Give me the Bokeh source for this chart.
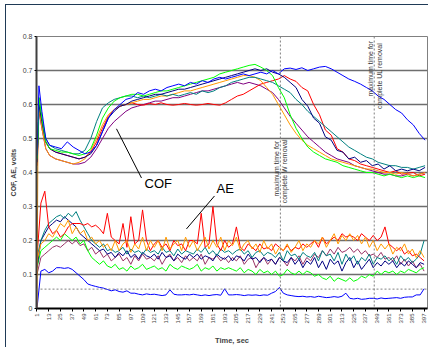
from math import pi
from bokeh.plotting import figure
from bokeh.models import Range1d, FixedTicker, Span, Label, NumeralTickFormatter
from bokeh.core.properties import value
from bokeh.embed import file_html
from bokeh.resources import INLINE

# ---------------- data ----------------
time_cof = [1, 2, 3, 6, 10] + list(range(14, 399, 6))
time_ae = list(range(1, 400, 4))
x_ticks = list(range(1, 398, 12))
y_ticks = [0, 0.1, 0.2, 0.3, 0.4, 0.5, 0.6, 0.7, 0.8]

W_REMOVAL_T = 250
UL_REMOVAL_T = 346
AE_CRIT = 0.057

cof_blue = [0.45, 0.55, 0.655, 0.58, 0.50, 0.48, 0.475, 0.47, 0.49, 0.475,
            0.465, 0.455, 0.46, 0.48, 0.52, 0.56, 0.585, 0.60, 0.615, 0.62,
            0.635, 0.63, 0.64, 0.645, 0.64, 0.65, 0.655, 0.66, 0.655, 0.665,
            0.66, 0.67, 0.665, 0.675, 0.68, 0.675, 0.68, 0.685, 0.69, 0.685,
            0.69, 0.695, 0.69, 0.70, 0.69, 0.705, 0.707, 0.703, 0.708, 0.70,
            0.705, 0.71, 0.712, 0.705, 0.695, 0.685, 0.675, 0.668, 0.66, 0.65,
            0.64, 0.625, 0.615, 0.60, 0.585, 0.575, 0.555, 0.54, 0.515, 0.495]
cof_red = [0.42, 0.5, 0.60, 0.55, 0.49, 0.47, 0.46, 0.455, 0.45, 0.445,
           0.44, 0.445, 0.46, 0.49, 0.53, 0.565, 0.585, 0.595, 0.60, 0.605,
           0.60, 0.598, 0.603, 0.60, 0.605, 0.60, 0.598, 0.60, 0.603, 0.60,
           0.598, 0.60, 0.603, 0.60, 0.598, 0.605, 0.615, 0.625, 0.63, 0.64,
           0.65, 0.66, 0.665, 0.67, 0.675, 0.685, 0.675, 0.668, 0.65, 0.64,
           0.60, 0.57, 0.525, 0.51, 0.47, 0.46, 0.44, 0.435, 0.425, 0.42,
           0.415, 0.41, 0.405, 0.40, 0.405, 0.395, 0.398, 0.40, 0.39, 0.395]
cof_green = [0.44, 0.5, 0.62, 0.56, 0.49, 0.47, 0.465, 0.46, 0.46, 0.455,
             0.45, 0.455, 0.47, 0.51, 0.56, 0.59, 0.61, 0.62, 0.625, 0.63,
             0.63, 0.625, 0.63, 0.635, 0.64, 0.64, 0.645, 0.65, 0.655, 0.66,
             0.665, 0.67, 0.675, 0.68, 0.69, 0.695, 0.70, 0.705, 0.71, 0.715,
             0.718, 0.71, 0.70, 0.685, 0.65, 0.62, 0.57, 0.53, 0.50, 0.475,
             0.46, 0.45, 0.44, 0.435, 0.43, 0.42, 0.415, 0.41, 0.405, 0.40,
             0.40, 0.395, 0.39, 0.395, 0.39, 0.385, 0.39, 0.385, 0.39, 0.385]
cof_navy = [0.43, 0.5, 0.6, 0.55, 0.49, 0.47, 0.46, 0.455, 0.45, 0.445,
            0.44, 0.445, 0.455, 0.48, 0.52, 0.56, 0.58, 0.595, 0.60, 0.61,
            0.615, 0.62, 0.625, 0.63, 0.63, 0.635, 0.64, 0.645, 0.645, 0.65,
            0.655, 0.66, 0.665, 0.67, 0.675, 0.68, 0.685, 0.69, 0.695, 0.70,
            0.705, 0.70, 0.705, 0.695, 0.69, 0.68, 0.665, 0.65, 0.615, 0.595,
            0.56, 0.545, 0.505, 0.495, 0.465, 0.46, 0.44, 0.445, 0.43, 0.435,
            0.42, 0.425, 0.41, 0.42, 0.405, 0.41, 0.405, 0.41, 0.405, 0.415]
cof_teal = [0.44, 0.5, 0.62, 0.56, 0.50, 0.48, 0.47, 0.465, 0.46, 0.455,
            0.455, 0.465, 0.50, 0.55, 0.59, 0.605, 0.615, 0.62, 0.625, 0.625,
            0.62, 0.625, 0.62, 0.625, 0.63, 0.625, 0.63, 0.625, 0.63, 0.635,
            0.63, 0.64, 0.635, 0.64, 0.65, 0.655, 0.665, 0.67, 0.675, 0.68,
            0.68, 0.675, 0.67, 0.665, 0.655, 0.645, 0.635, 0.615, 0.60, 0.58,
            0.565, 0.55, 0.535, 0.52, 0.505, 0.49, 0.475, 0.465, 0.455, 0.445,
            0.44, 0.43, 0.425, 0.42, 0.42, 0.415, 0.415, 0.41, 0.415, 0.42]
cof_orange = [0.0, 0.5, 0.59, 0.53, 0.47, 0.45, 0.44, 0.435, 0.43, 0.425,
              0.43, 0.44, 0.465, 0.50, 0.54, 0.57, 0.585, 0.595, 0.60, 0.605,
              0.61, 0.615, 0.615, 0.62, 0.625, 0.625, 0.63, 0.635, 0.64, 0.64,
              0.645, 0.65, 0.655, 0.66, 0.665, 0.67, 0.675, 0.68, 0.685, 0.685,
              0.68, 0.67, 0.65, 0.63, 0.60, 0.57, 0.54, 0.515, 0.495, 0.48,
              0.47, 0.46, 0.45, 0.44, 0.435, 0.43, 0.425, 0.42, 0.415, 0.41,
              0.41, 0.405, 0.40, 0.40, 0.395, 0.40, 0.395, 0.39, 0.395, 0.40]
cof_purple = [0.42, 0.48, 0.58, 0.53, 0.47, 0.45, 0.44, 0.435, 0.43, 0.425,
              0.425, 0.43, 0.445, 0.47, 0.50, 0.53, 0.55, 0.565, 0.58, 0.59,
              0.595, 0.60, 0.605, 0.61, 0.61, 0.615, 0.62, 0.62, 0.625, 0.63,
              0.635, 0.64, 0.64, 0.645, 0.65, 0.655, 0.66, 0.665, 0.66, 0.665,
              0.66, 0.655, 0.645, 0.635, 0.615, 0.59, 0.565, 0.545, 0.525, 0.505,
              0.49, 0.475, 0.46, 0.45, 0.44, 0.435, 0.43, 0.42, 0.415, 0.41,
              0.405, 0.40, 0.395, 0.395, 0.39, 0.39, 0.395, 0.39, 0.395, 0.40]

ae_blue = [0.0, 0.11, 0.115, 0.105, 0.11, 0.12, 0.12, 0.118, 0.12, 0.115,
           0.105, 0.095, 0.085, 0.072, 0.068, 0.065, 0.062, 0.06, 0.056, 0.052,
           0.055, 0.05, 0.048, 0.052, 0.045, 0.045, 0.042, 0.04, 0.043, 0.041,
           0.042, 0.04, 0.038, 0.04, 0.055, 0.042, 0.04, 0.04, 0.041, 0.04,
           0.042, 0.04, 0.038, 0.04, 0.038, 0.04, 0.041, 0.039, 0.058, 0.04,
           0.04, 0.041, 0.04, 0.038, 0.04, 0.039, 0.04, 0.038, 0.04, 0.039,
           0.045, 0.05, 0.062, 0.045, 0.04, 0.038, 0.036, 0.035, 0.036, 0.034,
           0.035, 0.033, 0.036, 0.034, 0.032, 0.033, 0.035, 0.033, 0.036, 0.045,
           0.03, 0.028, 0.03, 0.027, 0.028, 0.03, 0.03, 0.028, 0.031, 0.029,
           0.03, 0.031, 0.032, 0.03, 0.033, 0.034, 0.034, 0.04, 0.04, 0.058]
ae_green = [0.12, 0.17, 0.18, 0.19, 0.2, 0.21, 0.2, 0.22, 0.21, 0.2,
            0.21, 0.19, 0.2, 0.17, 0.15, 0.14, 0.13, 0.14, 0.125, 0.12,
            0.13, 0.115, 0.12, 0.11, 0.125, 0.115, 0.12, 0.13, 0.115, 0.12,
            0.125, 0.115, 0.12, 0.11, 0.13, 0.12, 0.115, 0.125, 0.12, 0.115,
            0.12, 0.13, 0.11, 0.12, 0.115, 0.125, 0.11, 0.12, 0.115, 0.12,
            0.115, 0.11, 0.12, 0.105, 0.115, 0.11, 0.1, 0.115, 0.105, 0.11,
            0.1, 0.11, 0.095, 0.1, 0.115, 0.105, 0.1, 0.11, 0.1, 0.11,
            0.105, 0.095, 0.1, 0.09, 0.085, 0.095, 0.08, 0.09, 0.085, 0.08,
            0.09, 0.08, 0.085, 0.095, 0.09, 0.1, 0.095, 0.11, 0.1, 0.11,
            0.105, 0.11, 0.1, 0.11, 0.105, 0.115, 0.11, 0.105, 0.115, 0.12]
ae_mauve = [0.1, 0.15, 0.16, 0.17, 0.18, 0.185, 0.18, 0.19, 0.2, 0.19,
            0.2, 0.185, 0.19, 0.17, 0.18, 0.16, 0.17, 0.15, 0.16, 0.14,
            0.15, 0.16, 0.14, 0.15, 0.13, 0.155, 0.14, 0.16, 0.145, 0.15,
            0.14, 0.155, 0.13, 0.15, 0.16, 0.14, 0.15, 0.135, 0.155, 0.14,
            0.15, 0.14, 0.16, 0.13, 0.15, 0.145, 0.155, 0.14, 0.15, 0.135,
            0.15, 0.14, 0.155, 0.13, 0.145, 0.15, 0.12, 0.14, 0.15, 0.13,
            0.145, 0.13, 0.15, 0.14, 0.125, 0.15, 0.14, 0.155, 0.13, 0.15,
            0.14, 0.16, 0.15, 0.17, 0.155, 0.175, 0.16, 0.18, 0.165, 0.17,
            0.18, 0.165, 0.175, 0.16, 0.17, 0.155, 0.16, 0.15, 0.165, 0.145,
            0.15, 0.14, 0.155, 0.13, 0.145, 0.125, 0.14, 0.12, 0.13, 0.11]
ae_navy = [0.12, 0.2, 0.22, 0.24, 0.25, 0.26, 0.255, 0.27, 0.26, 0.25,
           0.24, 0.22, 0.21, 0.2, 0.19, 0.18, 0.17, 0.175, 0.16, 0.165,
           0.15, 0.165, 0.155, 0.17, 0.15, 0.16, 0.145, 0.165, 0.155, 0.15,
           0.16, 0.145, 0.165, 0.15, 0.155, 0.14, 0.16, 0.15, 0.145, 0.16,
           0.15, 0.16, 0.145, 0.155, 0.15, 0.14, 0.16, 0.15, 0.145, 0.155,
           0.14, 0.155, 0.15, 0.14, 0.16, 0.145, 0.15, 0.135, 0.15, 0.14,
           0.145, 0.13, 0.15, 0.14, 0.135, 0.15, 0.13, 0.145, 0.12, 0.14,
           0.13, 0.15, 0.12, 0.14, 0.115, 0.145, 0.13, 0.14, 0.11, 0.135,
           0.15, 0.12, 0.14, 0.115, 0.13, 0.145, 0.12, 0.135, 0.125, 0.14,
           0.13, 0.14, 0.12, 0.135, 0.125, 0.14, 0.13, 0.12, 0.135, 0.13]
ae_teal = [0.15, 0.2, 0.23, 0.25, 0.26, 0.27, 0.275, 0.265, 0.28, 0.27,
           0.285, 0.26, 0.24, 0.22, 0.2, 0.19, 0.18, 0.19, 0.17, 0.175,
           0.165, 0.17, 0.18, 0.16, 0.175, 0.165, 0.17, 0.16, 0.175, 0.165,
           0.17, 0.16, 0.18, 0.165, 0.17, 0.155, 0.175, 0.16, 0.17, 0.165,
           0.16, 0.175, 0.165, 0.18, 0.16, 0.17, 0.155, 0.175, 0.165, 0.17,
           0.16, 0.17, 0.175, 0.16, 0.17, 0.15, 0.165, 0.17, 0.155, 0.165,
           0.16, 0.15, 0.165, 0.14, 0.17, 0.155, 0.16, 0.145, 0.165, 0.155,
           0.15, 0.165, 0.14, 0.17, 0.155, 0.16, 0.14, 0.165, 0.13, 0.16,
           0.14, 0.155, 0.13, 0.15, 0.14, 0.16, 0.13, 0.15, 0.145, 0.155,
           0.14, 0.15, 0.13, 0.155, 0.14, 0.15, 0.135, 0.145, 0.16, 0.2]
ae_orange = [0.14, 0.19, 0.2, 0.22, 0.21, 0.23, 0.25, 0.24, 0.26, 0.22,
             0.24, 0.22, 0.23, 0.2, 0.21, 0.19, 0.2, 0.18, 0.19, 0.17,
             0.2, 0.17, 0.19, 0.2, 0.165, 0.19, 0.175, 0.21, 0.17, 0.2,
             0.18, 0.2, 0.17, 0.21, 0.175, 0.19, 0.2, 0.17, 0.21, 0.18,
             0.2, 0.17, 0.19, 0.21, 0.175, 0.2, 0.18, 0.21, 0.17, 0.2,
             0.185, 0.21, 0.17, 0.19, 0.2, 0.175, 0.19, 0.165, 0.2, 0.175,
             0.19, 0.16, 0.18, 0.17, 0.19, 0.165, 0.18, 0.2, 0.17, 0.19,
             0.18, 0.2, 0.19, 0.21, 0.18, 0.2, 0.22, 0.19, 0.215, 0.2,
             0.22, 0.2, 0.215, 0.19, 0.21, 0.18, 0.2, 0.17, 0.19, 0.175,
             0.19, 0.16, 0.18, 0.17, 0.19, 0.16, 0.175, 0.15, 0.17, 0.15]
ae_red = [0.15, 0.31, 0.345, 0.24, 0.22, 0.23, 0.21, 0.22, 0.24, 0.25,
          0.25, 0.25, 0.245, 0.25, 0.24, 0.245, 0.235, 0.22, 0.28, 0.21,
          0.2, 0.19, 0.25, 0.18, 0.27, 0.19, 0.2, 0.29, 0.2, 0.17,
          0.19, 0.2, 0.18, 0.19, 0.17, 0.2, 0.185, 0.19, 0.17, 0.2,
          0.2, 0.19, 0.28, 0.18, 0.19, 0.30, 0.19, 0.17, 0.2, 0.18,
          0.19, 0.24, 0.18, 0.17, 0.19, 0.18, 0.17, 0.19, 0.175, 0.18,
          0.17, 0.19, 0.18, 0.17, 0.185, 0.17, 0.18, 0.175, 0.19, 0.18,
          0.19, 0.2, 0.18, 0.21, 0.19, 0.2, 0.21, 0.2, 0.22, 0.21,
          0.215, 0.21, 0.2, 0.22, 0.21, 0.2, 0.215, 0.2, 0.21, 0.24,
          0.19, 0.18, 0.17, 0.18, 0.16, 0.17, 0.155, 0.16, 0.15, 0.14]

cof_series = [(cof_purple, "#800080"), (cof_red, "#FF0000"), (cof_orange, "#FF9900"),
              (cof_teal, "#008080"), (cof_navy, "#000080"), (cof_green, "#00FF00"),
              (cof_blue, "#0000FF")]
ae_series = [(ae_mauve, "#993366"), (ae_green, "#00FF00"), (ae_navy, "#000080"),
             (ae_teal, "#008080"), (ae_red, "#FF0000"), (ae_orange, "#FF9900"),
             (ae_blue, "#0000FF")]

FONT = value("Liberation Sans")

# ---------------- figure ----------------
p = figure(frame_width=391, frame_height=272,
           x_range=Range1d(0.5, 400.5), y_range=Range1d(0, 0.8),
           output_backend="svg", toolbar_location=None,
           min_border_left=29, min_border_right=2, min_border_top=31, min_border_bottom=38,
           background_fill_color="white", border_fill_color="white")
p.styles = {"position": "relative", "left": "5px", "top": "4px",
            "border-left": "1px solid #1f3a56", "border-top": "1px solid #1f3a56"}
p.outline_line_color = "#808080"
p.outline_line_width = 1

p.xgrid.grid_line_color = None
p.ygrid.ticker = FixedTicker(ticks=y_ticks)
p.ygrid.grid_line_color = "#6e6e6e"
p.ygrid.grid_line_width = 1.6

p.xaxis.ticker = FixedTicker(ticks=x_ticks)
p.xaxis.major_label_orientation = pi / 2
p.xaxis.major_label_text_font_size = "6px"
p.xaxis.major_label_text_font = "Liberation Sans"
p.xaxis.major_label_standoff = 2
p.xaxis.major_tick_out = 3
p.xaxis.major_tick_in = 0
p.xaxis.minor_tick_line_color = None
p.xaxis.axis_line_color = "black"
p.xaxis.axis_line_width = 2
p.xaxis.axis_label = "Time, sec"
p.xaxis.axis_label_text_font = "Liberation Sans"
p.xaxis.axis_label_text_font_style = "bold"
p.xaxis.axis_label_text_font_size = "7.5px"
p.xaxis.axis_label_standoff = 9

p.yaxis.ticker = FixedTicker(ticks=y_ticks)
p.yaxis.formatter = NumeralTickFormatter(format="0.[0]")
p.yaxis.major_label_text_font_size = "7px"
p.yaxis.major_label_text_font = "Liberation Sans"
p.yaxis.major_label_standoff = 2
p.yaxis.major_tick_out = 2
p.yaxis.major_tick_in = 0
p.yaxis.minor_tick_line_color = None
p.yaxis.axis_line_color = "#404040"
p.yaxis.axis_line_width = 2
p.yaxis.axis_label = "COF, AE, volts"
p.yaxis.axis_label_text_font = "Liberation Sans"
p.yaxis.axis_label_text_font_style = "bold"
p.yaxis.axis_label_text_font_size = "7px"
p.yaxis.axis_label_standoff = 3

# reference lines
p.add_layout(Span(location=W_REMOVAL_T, dimension="height", line_color="#808080",
                  line_dash="2 2", line_width=1))
p.add_layout(Span(location=UL_REMOVAL_T, dimension="height", line_color="#808080",
                  line_dash="2 2", line_width=1))
p.add_layout(Span(location=AE_CRIT, dimension="width", line_color="#808080",
                  line_dash="2 2", line_width=1))

for ys, c in ae_series:
    p.line(time_ae, ys, line_color=c, line_width=1)
for ys, c in cof_series:
    p.line(time_cof, ys, line_color=c, line_width=1)

# rotated notes
p.text(x=[246, 254], y=[0.493, 0.497], text=["maximum time for", "complete W removal"],
       angle=pi / 2, text_align="right", text_baseline="middle",
       text_font=FONT, text_font_size="7px", text_color="#333333")
p.text(x=[342, 351], y=[0.787, 0.781], text=["maximum time for", "complete UL removal"],
       angle=pi / 2, text_align="right", text_baseline="middle",
       text_font=FONT, text_font_size="7px", text_color="#333333")

# COF / AE callouts
p.line([82.3, 107.9], [0.5285, 0.384], line_color="black", line_width=1)
p.line([182.6, 153.9], [0.331, 0.234], line_color="black", line_width=1)
p.text(x=[111], y=[0.367], text=["COF"], text_align="left", text_baseline="middle",
       text_font=FONT, text_font_size="13px", text_color="black")
p.text(x=[184.6], y=[0.352], text=["AE"], text_align="left", text_baseline="middle",
       text_font=FONT, text_font_size="13px", text_color="black")

# AE crit label (outside the frame, left)
p.add_layout(Label(x=-17.9, y=0.0668, text="AE", text_font="Liberation Sans",
                   text_font_size="7px", text_font_style="bold italic",
                   text_baseline="middle", text_align="left", text_color="black"))
p.add_layout(Label(x=-9.9, y=0.0605, text="crit", text_font="Liberation Sans",
                   text_font_size="5px", text_font_style="italic",
                   text_baseline="middle", text_align="left", text_color="black"))

open("out.html", "w").write(file_html(p, INLINE))
